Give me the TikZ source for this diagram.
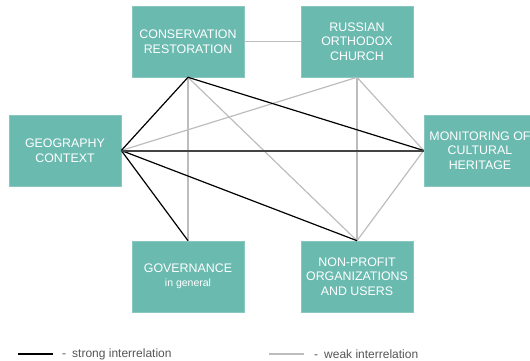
\documentclass[tikz,border=0pt]{standalone}
\usepackage{fontspec}
\setmainfont{Liberation Sans}
\definecolor{teal1}{HTML}{6ABAB0}
\definecolor{weakc}{HTML}{BDBDBD}
\definecolor{midc}{HTML}{444444}
\definecolor{legc}{HTML}{555555}
\begin{document}
\begin{tikzpicture}[x=1pt,y=-1pt,
  box/.style={fill=teal1,draw=teal1!80!white,line width=0.6pt,minimum width=112pt,minimum height=71pt,inner sep=0pt,
    text=white,font=\fontsize{12.4}{14.6}\selectfont,align=center},
  strong/.style={black,line width=1.2pt},
  weak/.style={weakc,line width=1.2pt},
  mid/.style={midc,line width=2pt},
  legtext/.style={text=legc,font=\fontsize{12}{14}\selectfont,anchor=west,inner sep=0pt}]
\useasboundingbox (0,0) rectangle (530,361);
\node[box] (cons) at (188,41.5) {CONSERVATION\\RESTORATION};
\node[box] (rus) at (357,41.5) {RUSSIAN\\ORTHODOX\\CHURCH};
\node[box] (geo) at (65,150.5) {GEOGRAPHY\\CONTEXT};
\node[box] (mon) at (480,150.5) {MONITORING OF\\CULTURAL\\HERITAGE};
\node[box] (gov) at (188,276.5) {GOVERNANCE\\[-1pt]{\fontsize{10.5}{12}\selectfont in general}};
\node[box] (npo) at (357,276.5) {NON-PROFIT\\ORGANIZATIONS\\AND USERS};
% weak
\draw[weak] (cons.east) -- (rus.west);
\draw[weak] (cons.south) -- (gov.north);
\draw[weak] (cons.south) -- (npo.north);
\draw[weak] (rus.south) -- (geo.east);
\draw[weak] (rus.south) -- (npo.north);
\draw[weak] (rus.south) -- (mon.west);
\draw[weak] (mon.west) -- (npo.north);
% strong
\draw[strong] (cons.south) -- (geo.east);
\draw[strong] (cons.south) -- (mon.west);
\draw[strong] (geo.east) -- (npo.north);
\draw[strong] (geo.east) -- (gov.north);
\draw[mid] (geo.east) -- (mon.west);
% legend
\coordinate (l1a) at (18,354); \coordinate (l1b) at (53,354);
\coordinate (l2a) at (269,354); \coordinate (l2b) at (304,354);
\draw[strong] (l1a) -- (l1b);
\draw[weak] (l2a) -- (l2b);
\node[legtext] (t1) at (62,354) {-\hspace{6pt}strong interrelation};
\node[legtext] (t2) at (314,354) {-\hspace{6pt}weak interrelation};
\end{tikzpicture}
\end{document}
